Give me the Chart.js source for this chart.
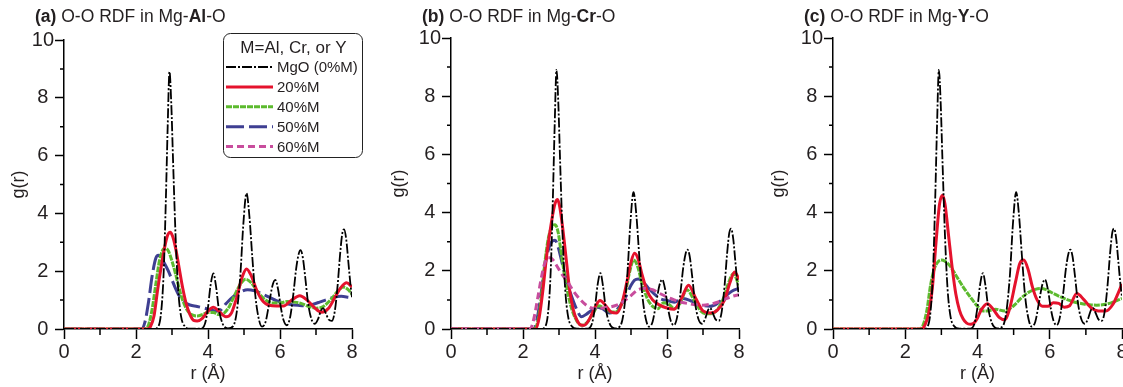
<!DOCTYPE html>
<html>
<head>
<meta charset="utf-8">
<script src="https://cdn.jsdelivr.net/npm/chart.js@4"></script>
<style>
  html, body { margin: 0; padding: 0; background: #fff; width: 1123px; height: 387px; overflow: hidden; }
  .panel { position: absolute; top: 0; }
  .title { position: absolute; top: 6px; font: 17.5px "Liberation Sans", Arial, sans-serif; color: #231f20; line-height: 20px; white-space: nowrap; }
</style>
</head>
<body>
<div class="panel" style="left:0"><canvas id="chartA" width="380" height="387"></canvas></div>
<div class="panel" style="left:380px"><canvas id="chartB" width="380" height="387"></canvas></div>
<div class="panel" style="left:760px"><canvas id="chartC" width="380" height="387"></canvas></div>
<div class="title" style="left:35px"><b>(a)</b> O-O RDF in Mg-<b>Al</b>-O</div>
<div class="title" style="left:422px"><b>(b)</b> O-O RDF in Mg-<b>Cr</b>-O</div>
<div class="title" style="left:804px"><b>(c)</b> O-O RDF in Mg-<b>Y</b>-O</div>
<script>
// axis ticks
const xMajor = [0, 2, 4, 6, 8];
const xMinor = [1, 3, 5, 7];
const yMajor = [0, 2, 4, 6, 8, 10];
const yMinor = [1, 3, 5, 7, 9];
const legendTitle = "M=Al, Cr, or Y";
const legendLabels = ["MgO (0%M)", "20%M", "40%M", "50%M", "60%M"];

// MgO (0%M), same in every panel
const rMgO = [0, 2.3, 2.5, 2.6, 2.7, 2.77, 2.83, 2.88, 2.93, 2.98, 3.03, 3.1, 3.17, 3.25, 3.35, 3.5, 3.8, 3.92, 4.0, 4.07, 4.15, 4.22, 4.3, 4.4, 4.55, 4.7, 4.8, 4.9, 4.98, 5.07, 5.15, 5.23, 5.32, 5.42, 5.5, 5.6, 5.7, 5.79, 5.87, 5.95, 6.03, 6.1, 6.19, 6.28, 6.37, 6.45, 6.52, 6.57, 6.63, 6.7, 6.78, 6.87, 6.97, 7.06, 7.14, 7.2, 7.27, 7.35, 7.44, 7.52, 7.6, 7.67, 7.73, 7.78, 7.84, 7.9, 7.96, 8.0];
const gMgO = [0, 0, 0, 0.05, 0.6, 2.0, 4.5, 7.0, 8.9, 7.8, 5.8, 3.2, 1.4, 0.45, 0.1, 0.01, 0.01, 0.2, 0.75, 1.5, 1.92, 1.5, 0.7, 0.2, 0.02, 0.1, 0.6, 1.9, 3.6, 4.7, 3.9, 2.5, 1.1, 0.3, 0.08, 0.25, 0.9, 1.5, 1.7, 1.35, 0.7, 0.3, 0.13, 0.4, 1.2, 2.1, 2.6, 2.73, 2.5, 1.8, 0.9, 0.35, 0.18, 0.35, 0.65, 0.72, 0.55, 0.33, 0.28, 0.6, 1.5, 2.6, 3.3, 3.45, 3.1, 2.3, 1.5, 1.1];

// (a) Mg-Al-O
const rAl20 = [0, 2.3, 2.4, 2.5, 2.6, 2.7, 2.8, 2.88, 2.95, 3.02, 3.1, 3.2, 3.3, 3.4, 3.5, 3.6, 3.7, 3.85, 4.0, 4.15, 4.3, 4.5, 4.65, 4.8, 4.95, 5.07, 5.2, 5.35, 5.5, 5.7, 5.9, 6.1, 6.3, 6.55, 6.75, 6.95, 7.15, 7.35, 7.55, 7.7, 7.85, 8.0];
const gAl20 = [0, 0, 0.08, 0.45, 1.35, 2.15, 2.85, 3.25, 3.35, 3.2, 2.8, 2.1, 1.4, 0.85, 0.5, 0.3, 0.28, 0.38, 0.62, 0.75, 0.62, 0.42, 0.55, 1.1, 1.8, 2.08, 1.85, 1.35, 1.0, 0.82, 0.8, 0.8, 0.98, 1.15, 1.0, 0.75, 0.58, 0.72, 1.15, 1.45, 1.6, 1.45];
const rAl40 = [0, 2.25, 2.35, 2.45, 2.55, 2.65, 2.75, 2.82, 2.9, 3.0, 3.1, 3.2, 3.3, 3.45, 3.6, 3.7, 3.85, 4.0, 4.15, 4.3, 4.45, 4.6, 4.75, 4.9, 5.05, 5.2, 5.4, 5.6, 5.8, 6.0, 6.2, 6.4, 6.6, 6.8, 7.0, 7.2, 7.4, 7.6, 7.75, 7.9, 8.0];
const gAl40 = [0, 0, 0.15, 0.7, 1.55, 2.35, 2.75, 2.8, 2.7, 2.35, 1.9, 1.4, 0.98, 0.6, 0.47, 0.45, 0.5, 0.57, 0.57, 0.5, 0.55, 0.8, 1.2, 1.55, 1.72, 1.6, 1.25, 1.0, 0.9, 0.9, 0.95, 0.93, 0.88, 0.78, 0.72, 0.78, 1.0, 1.3, 1.45, 1.35, 1.2];
const rAl50 = [0, 2.15, 2.25, 2.35, 2.45, 2.55, 2.62, 2.7, 2.8, 2.9, 3.0, 3.1, 3.2, 3.35, 3.5, 3.7, 3.9, 4.1, 4.3, 4.5, 4.7, 4.9, 5.1, 5.3, 5.5, 5.7, 5.9, 6.1, 6.3, 6.5, 6.7, 6.9, 7.1, 7.3, 7.5, 7.7, 7.9, 8.0];
const gAl50 = [0, 0, 0.25, 0.95, 1.85, 2.45, 2.55, 2.45, 2.25, 2.0, 1.7, 1.4, 1.15, 0.92, 0.83, 0.78, 0.72, 0.65, 0.62, 0.88, 1.12, 1.28, 1.36, 1.32, 1.22, 1.1, 0.98, 0.9, 0.85, 0.82, 0.8, 0.85, 0.93, 1.02, 1.1, 1.13, 1.1, 1.08];

// (b) Mg-Cr-O
const rCr20 = [0, 2.35, 2.45, 2.55, 2.65, 2.75, 2.85, 2.9, 2.96, 3.02, 3.1, 3.2, 3.3, 3.4, 3.5, 3.6, 3.7, 3.85, 4.0, 4.14, 4.3, 4.45, 4.6, 4.75, 4.9, 5.0, 5.1, 5.2, 5.3, 5.45, 5.6, 5.8, 6.0, 6.2, 6.4, 6.6, 6.8, 7.0, 7.2, 7.4, 7.6, 7.75, 7.88, 8.0];
const gCr20 = [0, 0, 0.4, 1.3, 2.45, 3.35, 4.1, 4.35, 4.45, 4.2, 3.5, 2.4, 1.3, 0.65, 0.3, 0.14, 0.13, 0.35, 0.75, 0.98, 0.8, 0.58, 0.55, 0.9, 1.7, 2.3, 2.6, 2.4, 1.9, 1.3, 1.0, 0.82, 0.72, 0.68, 1.05, 1.5, 1.05, 0.62, 0.55, 0.65, 1.0, 1.6, 1.96, 1.7];
const rCr40 = [0, 2.3, 2.4, 2.5, 2.6, 2.7, 2.8, 2.89, 2.98, 3.05, 3.15, 3.25, 3.35, 3.45, 3.55, 3.65, 3.8, 3.95, 4.1, 4.25, 4.4, 4.55, 4.7, 4.85, 4.97, 5.07, 5.17, 5.3, 5.45, 5.6, 5.75, 5.9, 6.05, 6.2, 6.35, 6.55, 6.75, 6.95, 7.15, 7.35, 7.55, 7.7, 7.84, 8.0];
const gCr40 = [0, 0, 0.2, 1.0, 2.2, 3.1, 3.5, 3.58, 3.3, 2.7, 1.9, 1.2, 0.7, 0.38, 0.18, 0.13, 0.25, 0.55, 0.8, 0.72, 0.6, 0.58, 0.75, 1.3, 2.0, 2.37, 2.2, 1.6, 1.05, 0.78, 0.7, 0.9, 0.85, 0.7, 0.85, 1.35, 1.0, 0.6, 0.52, 0.6, 1.0, 1.55, 1.9, 1.5];
const rCr50 = [0, 2.3, 2.4, 2.5, 2.6, 2.7, 2.8, 2.89, 2.98, 3.08, 3.2, 3.3, 3.4, 3.5, 3.62, 3.75, 3.9, 4.05, 4.2, 4.4, 4.55, 4.7, 4.85, 5.0, 5.1, 5.2, 5.35, 5.5, 5.65, 5.8, 6.0, 6.2, 6.45, 6.7, 6.95, 7.2, 7.4, 7.6, 7.8, 8.0];
const gCr50 = [0, 0, 0.4, 1.2, 2.1, 2.7, 3.0, 3.05, 2.8, 2.3, 1.7, 1.3, 0.95, 0.65, 0.42, 0.5, 0.64, 0.75, 0.7, 0.55, 0.6, 0.8, 1.1, 1.5, 1.68, 1.72, 1.6, 1.38, 1.2, 1.05, 0.98, 0.92, 1.05, 0.95, 0.82, 0.78, 0.88, 1.1, 1.3, 1.4];
const rCr60 = [0, 2.2, 2.3, 2.4, 2.5, 2.6, 2.68, 2.76, 2.85, 2.95, 3.1, 3.25, 3.4, 3.6, 3.8, 4.0, 4.2, 4.4, 4.6, 4.8, 5.0, 5.2, 5.4, 5.6, 5.8, 6.0, 6.2, 6.4, 6.6, 6.8, 7.0, 7.2, 7.4, 7.6, 7.8, 8.0];
const gCr60 = [0, 0, 0.35, 1.0, 1.7, 2.25, 2.45, 2.45, 2.35, 2.15, 1.85, 1.6, 1.3, 1.0, 0.78, 0.7, 0.72, 0.75, 0.82, 0.95, 1.15, 1.35, 1.4, 1.35, 1.22, 1.1, 1.0, 0.92, 0.87, 0.83, 0.82, 0.85, 0.92, 1.02, 1.12, 1.18];

// (c) Mg-Y-O
const rY20 = [0, 2.45, 2.55, 2.65, 2.75, 2.85, 2.95, 3.03, 3.1, 3.2, 3.3, 3.4, 3.5, 3.6, 3.7, 3.8, 3.9, 4.0, 4.1, 4.27, 4.45, 4.6, 4.75, 4.9, 5.05, 5.17, 5.28, 5.4, 5.52, 5.65, 5.8, 5.95, 6.1, 6.25, 6.4, 6.55, 6.75, 6.95, 7.15, 7.35, 7.55, 7.75, 7.9, 8.0];
const gY20 = [0, 0, 0.15, 0.55, 1.4, 2.95, 4.3, 4.6, 4.3, 3.2, 2.1, 1.2, 0.65, 0.35, 0.2, 0.16, 0.2, 0.38, 0.65, 0.87, 0.65, 0.4, 0.32, 0.75, 1.6, 2.25, 2.37, 2.05, 1.45, 1.0, 0.78, 0.78, 0.9, 0.88, 0.75, 0.8, 1.22, 1.0, 0.72, 0.62, 0.62, 0.85, 1.25, 1.55];
const rY40 = [0, 2.4, 2.5, 2.6, 2.7, 2.8, 2.9, 3.0, 3.1, 3.25, 3.4, 3.6, 3.8, 4.0, 4.15, 4.3, 4.5, 4.75, 5.0, 5.2, 5.4, 5.6, 5.75, 5.9, 6.1, 6.3, 6.5, 6.7, 6.9, 7.1, 7.3, 7.5, 7.7, 7.9, 8.0];
const gY40 = [0, 0, 0.15, 0.65, 1.5, 2.05, 2.3, 2.37, 2.33, 2.15, 1.85, 1.45, 1.1, 0.78, 0.62, 0.63, 0.68, 0.62, 0.8, 1.05, 1.25, 1.36, 1.39, 1.35, 1.22, 1.1, 1.0, 0.92, 0.87, 0.83, 0.82, 0.84, 0.9, 1.0, 1.05];

const FONT = '"Liberation Sans", Arial, sans-serif';
const TEXT = '#231f20';

// line styles per series (index matches legendLabels)
const styles = [
  { color: '#000000', width: 1.8, dash: [10, 2, 2, 2], order: 0 },
  { color: '#e5122d', width: 3, dash: [], order: 2 },
  { color: '#5cba2e', width: 3, dash: [6, 1], order: 3 },
  { color: '#3f3f92', width: 3, dash: [18, 5], order: 4 },
  { color: '#c84d9d', width: 3, dash: [7, 4], order: 1 }
];

function pts(rs, gs) {
  return rs.map((r, i) => ({ x: r, y: gs[i] }));
}

function ds(idx, rs, gs) {
  const s = styles[idx];
  return {
    label: legendLabels[idx],
    data: pts(rs, gs),
    borderColor: s.color,
    borderWidth: s.width,
    borderDash: s.dash,
    order: s.order,
    pointRadius: 0,
    cubicInterpolationMode: 'monotone',
    fill: false
  };
}

const minorTicks = {
  id: 'minorTicks',
  afterDraw(chart) {
    const { ctx, scales: { x, y } } = chart;
    ctx.save();
    ctx.strokeStyle = '#000';
    ctx.lineWidth = 1.5;
    ctx.beginPath();
    xMinor.forEach(v => {
      const px = x.getPixelForValue(v);
      ctx.moveTo(px, y.bottom);
      ctx.lineTo(px, y.bottom + 6);
    });
    yMinor.forEach(v => {
      const py = y.getPixelForValue(v);
      ctx.moveTo(x.left, py);
      ctx.lineTo(x.left - 4, py);
    });
    ctx.stroke();
    ctx.restore();
  }
};

// legend box inside panel (a)
const boxLegend = {
  id: 'boxLegend',
  afterDraw(chart) {
    const ctx = chart.ctx;
    const bx = 223, by = 33, bw = 139, bh = 124;
    ctx.save();
    ctx.fillStyle = '#fff';
    ctx.strokeStyle = '#222';
    ctx.lineWidth = 1;
    ctx.beginPath();
    ctx.roundRect(bx + 0.5, by + 0.5, bw, bh, 7);
    ctx.fill();
    ctx.stroke();
    ctx.fillStyle = TEXT;
    ctx.textBaseline = 'middle';
    ctx.textAlign = 'center';
    ctx.font = '17px ' + FONT;
    ctx.fillText(legendTitle, bx + bw / 2 + 1, by + 15);
    ctx.textAlign = 'left';
    ctx.font = '15px ' + FONT;
    legendLabels.forEach((lab, i) => {
      const s = styles[i];
      const ly = by + 34 + i * 19.9;
      ctx.strokeStyle = s.color;
      ctx.lineWidth = s.width;
      ctx.setLineDash(s.dash);
      ctx.beginPath();
      ctx.moveTo(bx + 3, ly);
      ctx.lineTo(bx + 50, ly);
      ctx.stroke();
      ctx.setLineDash([]);
      ctx.fillText(lab, bx + 54, ly + 1);
    });
    ctx.restore();
  }
};

function makeChart(id, datasets, yWidth, padTop, padRight, extraPlugins) {
  return new Chart(document.getElementById(id), {
    type: 'line',
    data: { datasets: datasets },
    options: {
      responsive: false,
      animation: false,
      events: [],
      layout: { padding: { left: 0, top: padTop, right: padRight, bottom: 0 } },
      plugins: { legend: { display: false }, tooltip: { enabled: false } },
      scales: {
        x: {
          type: 'linear',
          min: 0, max: 8,
          afterBuildTicks: s => { s.ticks = xMajor.map(v => ({ value: v })); },
          afterFit: s => { s.height = 58; },
          border: { display: true, color: '#000', width: 1.5 },
          grid: { display: true, drawOnChartArea: false, drawTicks: true, tickLength: 10, tickColor: '#000', tickWidth: 1.5 },
          ticks: { color: TEXT, font: { family: FONT, size: 20 }, padding: 1, maxRotation: 0 },
          title: { display: true, text: 'r (Å)', color: TEXT, font: { family: FONT, size: 18 }, padding: { top: 0, bottom: 2 } }
        },
        y: {
          type: 'linear',
          min: 0, max: 10,
          afterBuildTicks: s => { s.ticks = yMajor.map(v => ({ value: v })); },
          afterFit: s => { s.width = yWidth; },
          border: { display: true, color: '#000', width: 1.5 },
          grid: { display: true, drawOnChartArea: false, drawTicks: true, tickLength: 9, tickColor: '#000', tickWidth: 1.5 },
          ticks: { color: TEXT, font: { family: FONT, size: 20 }, padding: 1, crossAlign: 'center' },
          title: { display: true, text: 'g(r)', color: TEXT, font: { family: FONT, size: 18 }, padding: { top: 8, bottom: 0 } }
        }
      }
    },
    plugins: [minorTicks].concat(extraPlugins || [])
  });
}

makeChart('chartA', [
  ds(0, rMgO, gMgO),
  ds(1, rAl20, gAl20),
  ds(2, rAl40, gAl40),
  ds(3, rAl50, gAl50)
], 64, 40, 28, [boxLegend]);

makeChart('chartB', [
  ds(0, rMgO, gMgO),
  ds(1, rCr20, gCr20),
  ds(2, rCr40, gCr40),
  ds(3, rCr50, gCr50),
  ds(4, rCr60, gCr60)
], 71, 38, 21);

makeChart('chartC', [
  ds(0, rMgO, gMgO),
  ds(1, rY20, gY20),
  ds(2, rY40, gY40)
], 73, 38, 18);
</script>
</body>
</html>
